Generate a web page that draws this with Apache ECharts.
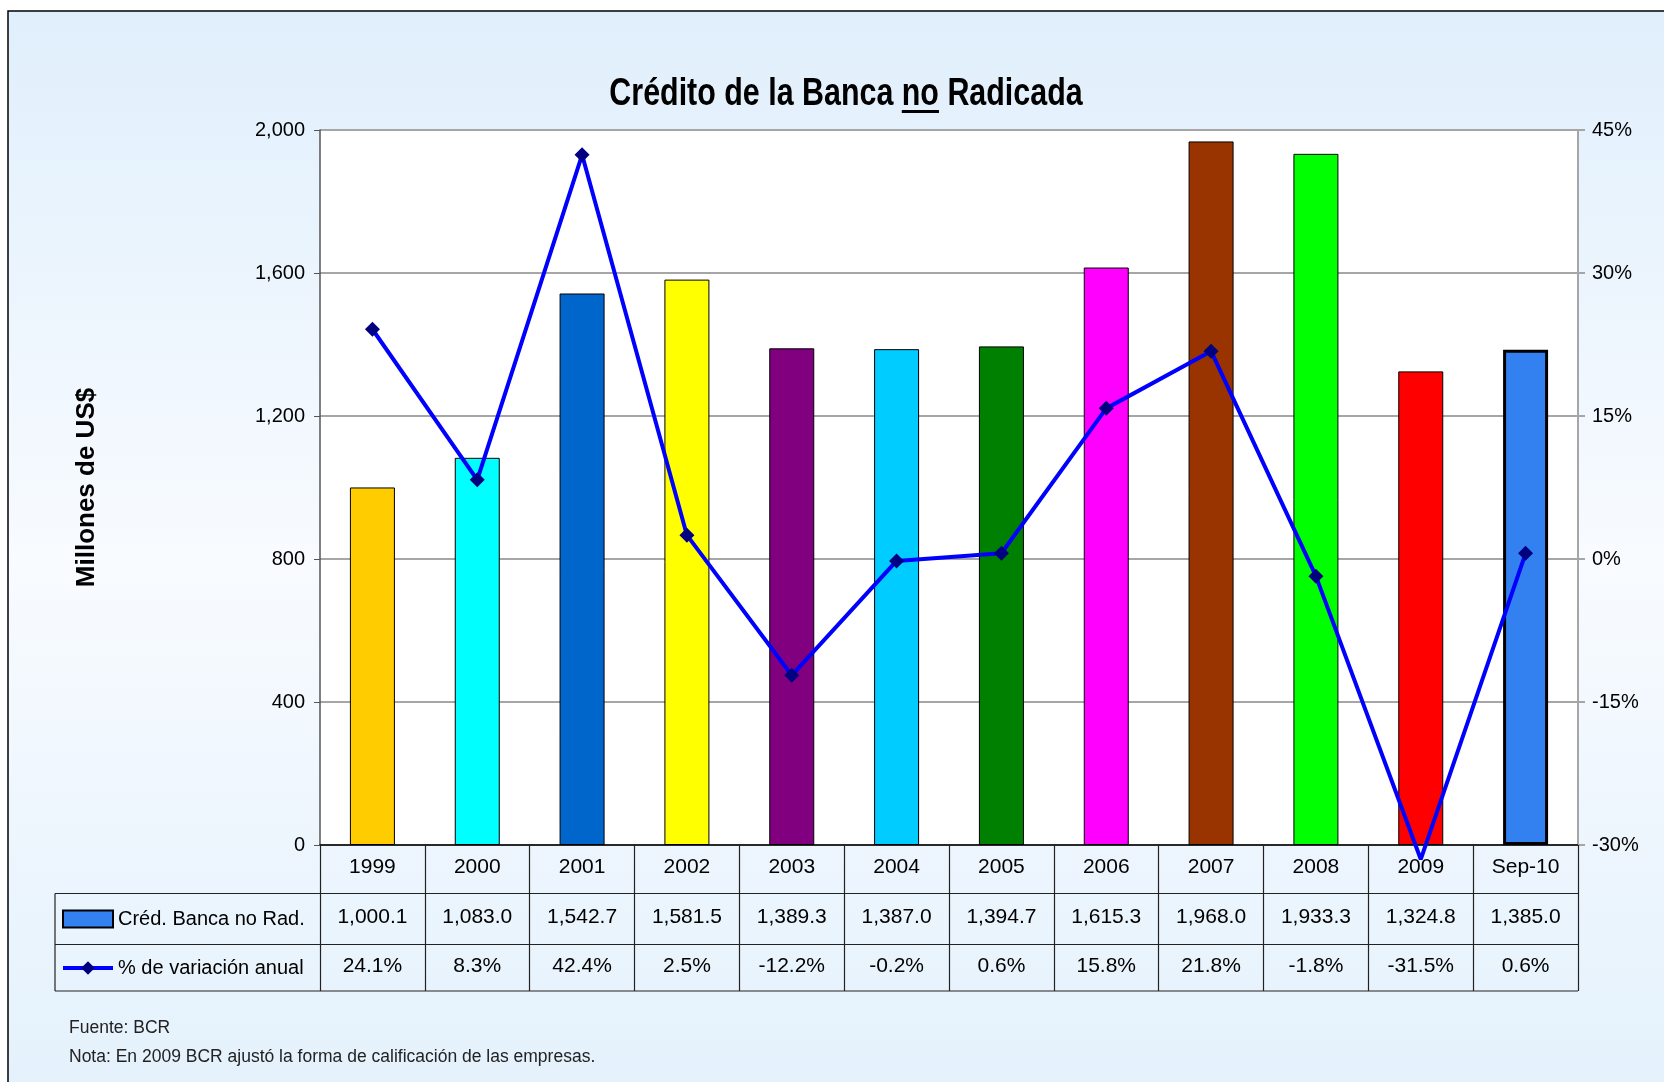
<!DOCTYPE html>
<html>
<head>
<meta charset="utf-8">
<title>Crédito de la Banca no Radicada</title>
<script src="https://cdn.jsdelivr.net/npm/echarts@6/dist/echarts.min.js"></script>
<style>
  html, body { margin: 0; padding: 0; background: #fff; }
  #main { width: 1664px; height: 1082px; }
</style>
</head>
<body>
<div id="main"></div>
<script>
// datos del gráfico
var categorias = ['1999', '2000', '2001', '2002', '2003', '2004', '2005', '2006', '2007', '2008', '2009', 'Sep-10'];
var credito = [1000.1, 1083.0, 1542.7, 1581.5, 1389.3, 1387.0, 1394.7, 1615.3, 1968.0, 1933.3, 1324.8, 1385.0];
var variacion = [24.1, 8.3, 42.4, 2.5, -12.2, -0.2, 0.6, 15.8, 21.8, -1.8, -31.5, 0.6];
var coloresBarras = ['#ffcc00', '#00ffff', '#0066cc', '#ffff00', '#800080', '#00ccff',
                     '#008000', '#ff00ff', '#993300', '#00ff00', '#ff0000', '#3380f0'];
var nombreBarras = 'Créd. Banca no Rad.';
var nombreLinea = '% de variación anual';

var fuente = 'Liberation Sans, Arial, sans-serif';

// geometría del área de trazado
var gLeft = 320, gRight = 1578, gTop = 130, gBottom = 845;
var fila1 = 893.5, fila2 = 944.5, fila3 = 991, tablaIzq = 55;

function miles(v) {
  return v.toLocaleString('en-US', { minimumFractionDigits: 1, maximumFractionDigits: 1 });
}

// título con "no" subrayado
var tituloA = 'Crédito de la Banca ', tituloB = 'no', tituloC = ' Radicada';
var fontTitulo = 'bold 39px "Liberation Sans"';
var escalaTitulo = 0.78;
var ctx = document.createElement('canvas').getContext('2d');
ctx.font = fontTitulo;
var wTotal = ctx.measureText(tituloA + tituloB + tituloC).width;
var wA = ctx.measureText(tituloA).width;
var wB = ctx.measureText(tituloB).width;
var tituloX = 846, tituloY = 94;
var subX = tituloX + (-wTotal / 2 + wA) * escalaTitulo;

var chart = echarts.init(document.getElementById('main'), null, { renderer: 'canvas' });

var datosBarras = credito.map(function (v, i) {
  var st = { color: coloresBarras[i], borderColor: '#000', borderWidth: 1 };
  if (i === credito.length - 1) st.borderWidth = 3;
  return { value: v, itemStyle: st };
});

var datosLinea = variacion.map(function (v, i) {
  // el valor de 2009 cae debajo del eje: sin marcador
  if (v < -30) return { value: v, symbol: 'none' };
  return v;
});

var lineaTabla = { stroke: '#222', lineWidth: 1.2 };
var etiquetaTabla = { fontSize: 21, color: '#000', margin: 12 };

var option = {
  backgroundColor: '#fff',
  animation: false,
  textStyle: { fontFamily: fuente },
  grid: {
    left: gLeft, right: 1664 - gRight, top: gTop, bottom: 1082 - gBottom,
    show: true, backgroundColor: '#fff', borderWidth: 0
  },
  legend: {
    orient: 'vertical',
    left: 61, top: 908,
    padding: 0,
    itemWidth: 50, itemHeight: 17,
    itemGap: 27,
    selectedMode: false,
    textStyle: { fontSize: 20, lineHeight: 22, color: '#000', fontFamily: fuente },
    data: [
      { name: nombreBarras, icon: 'rect' },
      { name: nombreLinea, lineStyle: { width: 4, color: '#0000ff' } }
    ]
  },
  xAxis: [
    {
      type: 'category', data: categorias, position: 'bottom',
      axisLine: { lineStyle: { color: '#000', width: 1.5 } },
      axisTick: { show: true, length: fila3 - gBottom, lineStyle: { color: '#222', width: 1.2 } },
      axisLabel: etiquetaTabla
    },
    {
      type: 'category', data: categorias, position: 'bottom', offset: 50,
      axisLine: { show: false }, axisTick: { show: false },
      axisLabel: Object.assign({}, etiquetaTabla, {
        formatter: function (v, i) { return miles(credito[i]); } })
    },
    {
      type: 'category', data: categorias, position: 'bottom', offset: 99,
      axisLine: { show: false }, axisTick: { show: false },
      axisLabel: Object.assign({}, etiquetaTabla, {
        formatter: function (v, i) { return variacion[i].toFixed(1) + '%'; } })
    }
  ],
  yAxis: [
    {
      type: 'value', min: 0, max: 2000, interval: 400,
      name: 'Millones de US$', nameLocation: 'middle', nameGap: 220,
      nameTextStyle: { fontSize: 26, fontWeight: 'bold', color: '#000', fontFamily: fuente },
      axisLine: { show: true, lineStyle: { color: '#555', width: 1.5 } },
      axisTick: { show: true, length: 6, lineStyle: { color: '#555' } },
      axisLabel: { fontSize: 20, color: '#000', margin: 15,
        formatter: function (v) { return v.toLocaleString('en-US'); } },
      splitLine: { lineStyle: { color: '#a6a6a6', width: 2 } }
    },
    {
      type: 'value', min: -30, max: 45, interval: 15, position: 'right',
      axisLine: { show: true, lineStyle: { color: '#a6a6a6', width: 2 } },
      axisTick: { show: true, length: 7, lineStyle: { color: '#a6a6a6', width: 2 } },
      axisLabel: { fontSize: 20, color: '#000', margin: 14,
        formatter: function (v) { return v + '%'; } },
      splitLine: { show: false }
    }
  ],
  series: [
    {
      name: nombreBarras, type: 'bar',
      xAxisIndex: 0, yAxisIndex: 0,
      barWidth: 45,
      itemStyle: { color: '#3380f0', borderColor: '#000', borderWidth: 1 },
      data: datosBarras
    },
    {
      name: nombreLinea, type: 'line',
      xAxisIndex: 0, yAxisIndex: 1,
      clip: false,
      symbol: 'diamond', symbolSize: 15,
      lineStyle: { color: '#0000ff', width: 4 },
      itemStyle: { color: '#000080' },
      z: 5,
      data: datosLinea
    }
  ],
  graphic: [
    // fondo degradado y marco
    {
      type: 'rect', z: -100, silent: true,
      shape: { x: 8, y: 11, width: 1700, height: 1100 },
      style: {
        fill: new echarts.graphic.LinearGradient(0, 0, 0, 1, [
          { offset: 0, color: '#e0effc' },
          { offset: 0.5, color: '#f8fbff' },
          { offset: 1, color: '#e3f1fc' }
        ]),
        stroke: '#000', lineWidth: 1.5
      }
    },
    {
      type: 'text', x: tituloX, y: tituloY, scaleX: escalaTitulo, z: 10,
      style: {
        text: tituloA + tituloB + tituloC, font: fontTitulo,
        fill: '#000', textAlign: 'center', textVerticalAlign: 'middle'
      }
    },
    {
      type: 'rect', z: 10,
      shape: { x: subX, y: 110, width: wB * escalaTitulo, height: 3 },
      style: { fill: '#000' }
    },
    // líneas de la tabla de datos
    { type: 'line', z: 10, shape: { x1: tablaIzq, y1: fila1, x2: gRight, y2: fila1 }, style: lineaTabla },
    { type: 'line', z: 10, shape: { x1: tablaIzq, y1: fila2, x2: gRight, y2: fila2 }, style: lineaTabla },
    { type: 'line', z: 10, shape: { x1: tablaIzq, y1: fila3, x2: gRight, y2: fila3 }, style: lineaTabla },
    { type: 'line', z: 10, shape: { x1: tablaIzq, y1: fila1, x2: tablaIzq, y2: fila3 }, style: lineaTabla },
    // notas
    {
      type: 'text', x: 69, y: 1028, z: 10,
      style: { text: 'Fuente: BCR', font: '17.5px "Liberation Sans"', fill: '#222', textVerticalAlign: 'middle' }
    },
    {
      type: 'text', x: 69, y: 1057, z: 10,
      style: { text: 'Nota: En 2009 BCR ajustó la forma de calificación de las empresas.',
               font: '17.5px "Liberation Sans"', fill: '#222', textVerticalAlign: 'middle' }
    }
  ]
};

chart.setOption(option);
</script>
</body>
</html>
